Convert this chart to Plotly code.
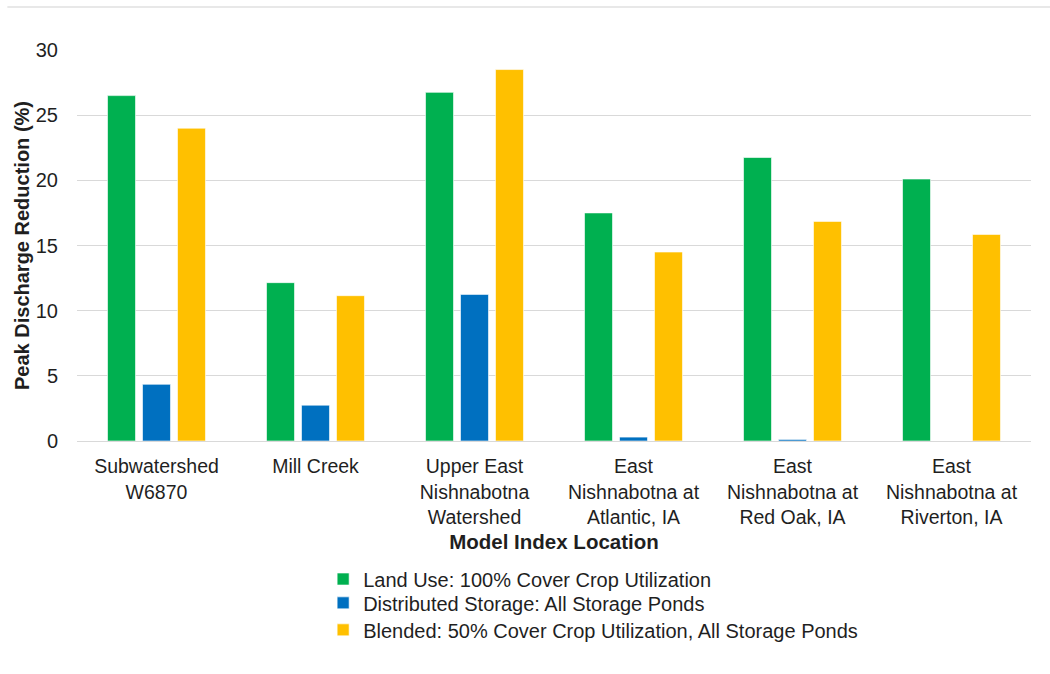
import plotly.graph_objects as go

categories = [
    "Subwatershed<br>W6870",
    "Mill Creek",
    "Upper East<br>Nishnabotna<br>Watershed",
    "East<br>Nishnabotna at<br>Atlantic, IA",
    "East<br>Nishnabotna at<br>Red Oak, IA",
    "East<br>Nishnabotna at<br>Riverton, IA",
]
land_use = [26.5, 12.15, 26.75, 17.5, 21.75, 20.1]
distributed = [4.35, 2.75, 11.25, 0.3, 0.12, 0.0]
blended = [24.0, 11.15, 28.5, 14.5, 16.85, 15.85]

series_names = [
    "Land Use: 100% Cover Crop Utilization",
    "Distributed Storage: All Storage Ponds",
    "Blended: 50% Cover Crop Utilization, All Storage Ponds",
]
colors = ["#00B050", "#0070C0", "#FFC000"]
y_ticks = [0, 5, 10, 15, 20, 25, 30]

FONT = "Liberation Sans, Arial, sans-serif"
TXT = "#1f1f1f"

legend_ids = ["legend", "legend2", "legend3"]
legend_y = [-0.353, -0.414, -0.483]

fig = go.Figure()
for name, vals, col, lid in zip(series_names, [land_use, distributed, blended], colors, legend_ids):
    fig.add_trace(go.Bar(
        x=categories, y=vals, name=name, legend=lid,
        marker=dict(color=col, line=dict(color="rgba(255,255,255,0.6)", width=1)),
    ))

legend_common = dict(
    orientation="v", x=0.258, xanchor="left", yanchor="middle",
    font=dict(family=FONT, size=20, color=TXT),
    bgcolor="rgba(0,0,0,0)", itemclick=False, itemwidth=30,
)

fig.update_layout(
    width=1050, height=674,
    paper_bgcolor="white", plot_bgcolor="white",
    margin=dict(l=77, r=19, t=50, b=233, autoexpand=False),
    barmode="group", bargap=0.34, bargroupgap=0.2,
    font=dict(family=FONT, size=19.5, color=TXT),
    showlegend=True,
    legend=dict(legend_common, y=legend_y[0]),
    legend2=dict(legend_common, y=legend_y[1]),
    legend3=dict(legend_common, y=legend_y[2]),
    xaxis=dict(
        showgrid=False, showline=True, linecolor="#D9D9D9", linewidth=1,
        ticks="", ticklabelstandoff=8, tickfont=dict(family=FONT, size=19.5, color=TXT),
        title=dict(text="<b>Model Index Location</b>", font=dict(family=FONT, size=20.5, color=TXT), standoff=7),
        automargin=False,
    ),
    yaxis=dict(
        range=[0, 30], tickvals=y_ticks, showgrid=True, gridcolor="#D9D9D9", gridwidth=1,
        zeroline=True, zerolinecolor="#D9D9D9", zerolinewidth=1,
        ticks="", ticklabelstandoff=18, tickfont=dict(family=FONT, size=20, color=TXT),
        title=dict(text="<b>Peak Discharge Reduction (%)</b>", font=dict(family=FONT, size=20, color=TXT), standoff=0),
        automargin=False,
    ),
    shapes=[dict(type="line", xref="paper", yref="paper",
                 x0=-0.073, x1=1.03, y0=1.11, y1=1.11,
                 line=dict(color="#E0E0E0", width=1.5))],
)

fig.write_html("out.html", config={"displayModeBar": False},
               post_script="document.body.style.margin='0';")
